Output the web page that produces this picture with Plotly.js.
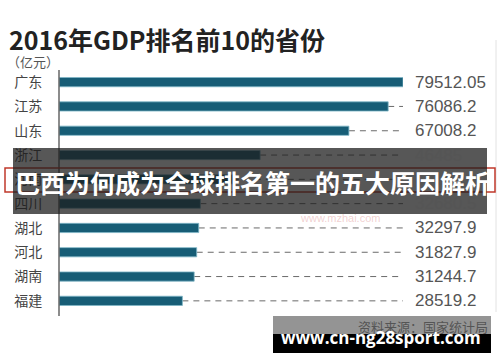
<!DOCTYPE html>
<html>
<head>
<meta charset="utf-8">
<script src="https://cdn.plot.ly/plotly-3.0.1.min.js"></script>
<style>
html,body{margin:0;padding:0;background:#fff;}
#chart{width:500px;height:362px;}
</style>
</head>
<body>
<div id="chart"></div>
<script>
const provinces = ["广东","江苏","山东","浙江","河南","四川","湖北","河北","湖南","福建"];
const gdpValues = [79512.05, 76086.2, 67008.2, 46485, 40160.0, 32680.5, 32297.9, 31827.9, 31244.7, 28519.2];
const valueLabels = ["79512.05","76086.2","67008.2","46485","40160.0","32680.5","32297.9","31827.9","31244.7","28519.2"];
const chartTitle = "2016年GDP排名前10的省份";
const unitLabel = "（亿元）";
const sourceLabel = "资料来源：国家统计局";
const overlayHeadline = "巴西为何成为全球排名第一的五大原因解析";
const overlaySite = "www.cn-ng28sport.com";
const watermark = "www.mzhai.com";

const W = 500, H = 362;
const M = {l: 59, r: 97, t: 70, b: 49};
const PW = W - M.l - M.r, PH = H - M.t - M.b;
const px = v => (v - M.l) / PW;
const py = v => (H - M.b - v) / PH;

const maxV = Math.max(...gdpValues);
const cjk = '"Noto Sans CJK SC", "Noto Sans", sans-serif';

const bar = {
  type: 'bar', orientation: 'h',
  x: gdpValues, y: provinces,
  width: 0.38,
  marker: {color: '#175d76', line: {color: '#7fb6c6', width: 0.8}},
  hoverinfo: 'none'
};

const dashShapes = gdpValues.map((v, i) => ({
  type: 'line', xref: 'x', yref: 'y', layer: 'below',
  x0: v, x1: maxV, y0: provinces[i], y1: provinces[i],
  line: {color: '#6a6a6a', width: 1, dash: '6px,5px'}
})).filter(s => s.x1 - s.x0 > 400);

const valueAnns = gdpValues.map((v, i) => ({
  xref: 'paper', yref: 'y', x: 1, y: provinces[i],
  xanchor: 'left', xshift: 10, showarrow: false,
  text: valueLabels[i],
  font: {family: 'Arial, "Liberation Sans", sans-serif', size: 17, color: '#555'}
}));

const shapes = dashShapes.concat([
  {type: 'line', xref: 'paper', yref: 'paper', x0: 0, x1: 0, y0: py(316), y1: py(70), line: {color: '#666', width: 1.5}},
  {type: 'line', xref: 'paper', yref: 'paper', x0: px(496), x1: px(496), y0: py(312), y1: py(40), line: {color: '#e2e2e2', width: 1}},
  {type: 'rect', xref: 'paper', yref: 'paper', x0: px(5), x1: px(495), y0: py(192), y1: py(168), line: {color: '#c0392b', width: 1.5}},
  {type: 'rect', xref: 'paper', yref: 'paper', x0: px(13), x1: px(487), y0: py(214), y1: py(148), fillcolor: 'rgba(28,28,28,0.74)', line: {width: 0}},
  {type: 'rect', xref: 'paper', yref: 'paper', x0: px(273), x1: px(491), y0: py(334), y1: py(316), fillcolor: 'rgba(0,0,0,0.42)', line: {width: 0}},
  {type: 'rect', xref: 'paper', yref: 'paper', x0: px(273), x1: px(491), y0: py(353), y1: py(334), fillcolor: '#000', line: {width: 0}}
]);

const annotations = valueAnns.concat([
  {xref: 'paper', yref: 'paper', x: px(5), y: py(62), xanchor: 'left', yanchor: 'middle', showarrow: false,
   text: unitLabel, font: {family: cjk, size: 13, color: '#555'}},
  {xref: 'paper', yref: 'paper', x: px(490), y: py(326), xanchor: 'right', yanchor: 'middle', showarrow: false,
   text: sourceLabel, font: {family: cjk, size: 13, color: '#555'}},
  {xref: 'paper', yref: 'paper', x: px(340), y: py(218), xanchor: 'center', yanchor: 'middle', showarrow: false,
   text: watermark, font: {family: 'Arial, sans-serif', size: 11, color: 'rgba(225,150,150,0.45)'}},
  {xref: 'paper', yref: 'paper', x: px(252), y: py(182), xanchor: 'center', yanchor: 'middle', showarrow: false,
   text: '<b>' + overlayHeadline + '</b>', font: {family: cjk, size: 25, color: '#fff'}},
  {xref: 'paper', yref: 'paper', x: px(381), y: py(337), xanchor: 'center', yanchor: 'middle', showarrow: false,
   text: '<b>' + overlaySite + '</b>', font: {family: '"Open Sans", "DejaVu Sans", sans-serif', size: 17, color: '#fff'}}
]);

const layout = {
  width: W, height: H,
  margin: M,
  paper_bgcolor: '#fff', plot_bgcolor: '#fff',
  showlegend: false,
  title: {
    text: '<b>' + chartTitle + '</b>',
    x: 9 / W, xanchor: 'left', xref: 'container',
    y: 1 - 41 / H, yanchor: 'middle', yref: 'container',
    font: {family: cjk, size: 25, color: '#222'}
  },
  xaxis: {range: [0, maxV], visible: false, fixedrange: true},
  yaxis: {
    autorange: 'reversed', type: 'category',
    showline: false, showgrid: false, zeroline: false,
    ticks: 'outside', ticklen: 13, tickcolor: 'rgba(0,0,0,0)',
    tickfont: {family: cjk, size: 14, color: '#444'}
  },
  shapes: shapes,
  annotations: annotations
};

Plotly.newPlot('chart', [bar], layout, {displayModeBar: false, staticPlot: true});
</script>
</body>
</html>
